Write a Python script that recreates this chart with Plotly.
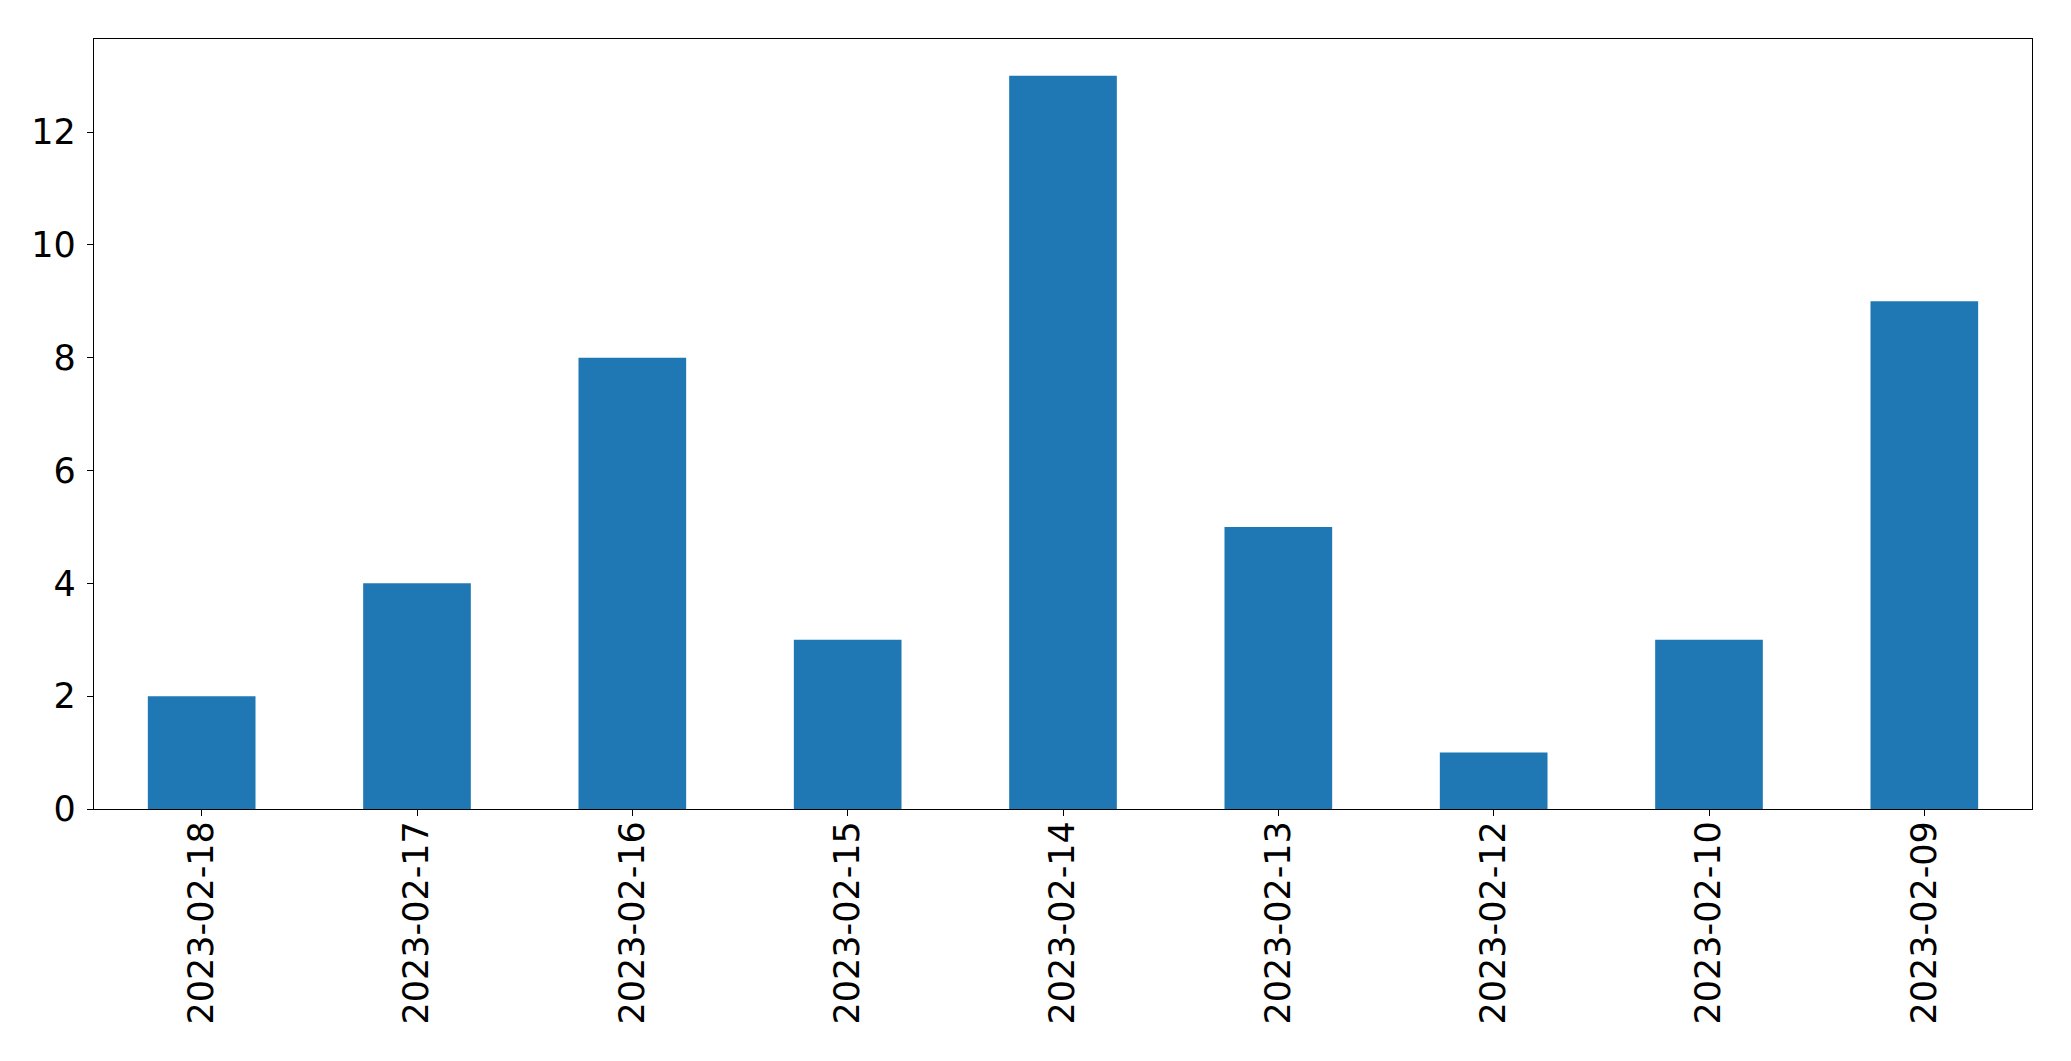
import plotly.graph_objects as go

dates = ["2023-02-18", "2023-02-17", "2023-02-16", "2023-02-15", "2023-02-14",
         "2023-02-13", "2023-02-12", "2023-02-10", "2023-02-09"]
counts = [2, 4, 8, 3, 13, 5, 1, 3, 9]
y_ticks = [0, 2, 4, 6, 8, 10, 12]

fig = go.Figure(go.Bar(x=dates, y=counts, width=0.5, marker=dict(color="#1f77b4", line=dict(width=0))))

font = dict(family="DejaVu Sans", size=35, color="black")
fig.update_layout(
    width=2063, height=1053,
    margin=dict(l=86, r=39, t=31, b=252),
    plot_bgcolor="white", paper_bgcolor="white",
    showlegend=False,
    font=font,
)
fig.update_xaxes(type="category", range=[-0.5, 8.5], tickangle=-90,
                 showline=True, mirror=True, linecolor="black", linewidth=1.3,
                 ticks="outside", ticklen=6, tickcolor="black", tickwidth=1.3,
                 showgrid=False, zeroline=False, tickfont=font, ticklabelstandoff=-9)
fig.update_yaxes(range=[0, 13.65], tickvals=y_ticks,
                 showline=True, mirror=True, linecolor="black", linewidth=1.3,
                 ticks="outside", ticklen=6, tickcolor="black", tickwidth=1.3,
                 showgrid=False, zeroline=False, tickfont=font, ticklabelstandoff=4)
fig.write_html("out.html")
